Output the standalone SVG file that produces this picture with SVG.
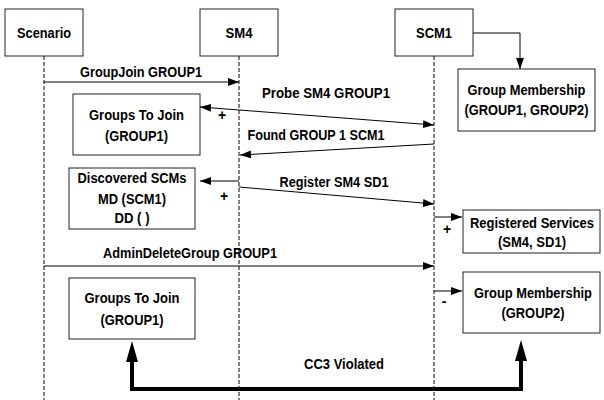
<svg xmlns="http://www.w3.org/2000/svg" width="604" height="400" viewBox="0 0 604 400">
<style>
text{font-family:"Liberation Sans",Arial,sans-serif;font-size:14px;font-weight:bold;fill:#000;text-anchor:middle}
.box{fill:#fff;stroke:#222;stroke-width:1}
.life{stroke:#000;stroke-width:1;stroke-dasharray:4,2;fill:none}
.msg{stroke:#000;stroke-width:1;fill:none}
.thick{stroke:#000;stroke-width:4;fill:none}
</style>
<defs>
<marker id="ah" markerUnits="userSpaceOnUse" markerWidth="11" markerHeight="8" refX="11" refY="4" orient="auto-start-reverse"><path d="M0,0 L11,4 L0,8 z" fill="#000"/></marker>
<marker id="big" markerUnits="userSpaceOnUse" markerWidth="22" markerHeight="12" refX="0" refY="6" orient="auto-start-reverse"><path d="M0,0 L21,6 L0,12 z" fill="#000"/></marker>
</defs>
<rect width="604" height="400" fill="#fff"/>
<g id="lifelines">
<line class="life" x1="44" y1="56" x2="44" y2="400"/>
<line class="life" x1="239" y1="56" x2="239" y2="400"/>
<line class="life" x1="434" y1="56" x2="434" y2="400"/>
</g>
<g id="scenario"><rect class="box" x="5" y="9" width="78" height="47"/><text x="44" y="38" textLength="54" lengthAdjust="spacingAndGlyphs">Scenario</text></g>
<g id="sm4"><rect class="box" x="200" y="9" width="78" height="47"/><text x="239" y="38" textLength="27" lengthAdjust="spacingAndGlyphs">SM4</text></g>
<g id="scm1"><rect class="box" x="395" y="9" width="78" height="47"/><text x="434" y="38" textLength="36" lengthAdjust="spacingAndGlyphs">SCM1</text></g>
<g id="groupMembership1"><rect class="box" x="458" y="69" width="137" height="62"/><text x="526.5" y="95" textLength="118" lengthAdjust="spacingAndGlyphs">Group Membership</text><text x="526.5" y="115" textLength="124" lengthAdjust="spacingAndGlyphs">(GROUP1, GROUP2)</text></g>
<g id="groupsToJoin1"><rect class="box" x="73" y="94" width="127" height="61"/><text x="136.5" y="120" textLength="95" lengthAdjust="spacingAndGlyphs">Groups To Join</text><text x="136.5" y="141" textLength="63" lengthAdjust="spacingAndGlyphs">(GROUP1)</text></g>
<g id="discoveredSCMs"><rect class="box" x="69" y="168" width="126" height="61"/><text x="132" y="183" textLength="109" lengthAdjust="spacingAndGlyphs">Discovered SCMs</text><text x="132" y="204" textLength="68" lengthAdjust="spacingAndGlyphs">MD (SCM1)</text><text x="132" y="223" textLength="35" lengthAdjust="spacingAndGlyphs">DD ( )</text></g>
<g id="registeredServices"><rect class="box" x="463" y="210" width="137" height="43"/><text x="532" y="228" textLength="124" lengthAdjust="spacingAndGlyphs">Registered Services</text><text x="532" y="247" textLength="68" lengthAdjust="spacingAndGlyphs">(SM4, SD1)</text></g>
<g id="groupsToJoin2"><rect class="box" x="69" y="278" width="126" height="61"/><text x="132" y="303" textLength="95" lengthAdjust="spacingAndGlyphs">Groups To Join</text><text x="132" y="325" textLength="63" lengthAdjust="spacingAndGlyphs">(GROUP1)</text></g>
<g id="groupMembership2"><rect class="box" x="463" y="272" width="137" height="61"/><text x="533" y="298" textLength="118" lengthAdjust="spacingAndGlyphs">Group Membership</text><text x="533" y="318" textLength="63" lengthAdjust="spacingAndGlyphs">(GROUP2)</text></g>
<g id="connectors">
<path class="msg" d="M473,33 H520 V69" marker-end="url(#ah)"/>
<line class="msg" x1="44" y1="82" x2="239" y2="82" marker-end="url(#ah)"/>
<line class="msg" x1="200" y1="107" x2="434" y2="125" marker-start="url(#ah)" marker-end="url(#ah)"/>
<line class="msg" x1="434" y1="144" x2="240" y2="155" marker-end="url(#ah)"/>
<line class="msg" x1="239" y1="181" x2="200" y2="181" marker-end="url(#ah)"/>
<line class="msg" x1="239" y1="187" x2="434" y2="204" marker-end="url(#ah)"/>
<line class="msg" x1="434" y1="217" x2="462" y2="217" marker-end="url(#ah)"/>
<line class="msg" x1="44" y1="266" x2="434" y2="266" marker-end="url(#ah)"/>
<line class="msg" x1="434" y1="291" x2="462" y2="291" marker-end="url(#ah)"/>
<path class="thick" d="M132,362 V389 H521 V361" marker-start="url(#big)" marker-end="url(#big)"/>
</g>
<g id="labels">
<text x="141" y="77" textLength="122" lengthAdjust="spacingAndGlyphs">GroupJoin GROUP1</text>
<text x="326" y="98" textLength="128" lengthAdjust="spacingAndGlyphs">Probe SM4 GROUP1</text>
<text x="222" y="120">+</text>
<text x="316" y="140" textLength="137" lengthAdjust="spacingAndGlyphs">Found GROUP 1 SCM1</text>
<text x="224" y="201">+</text>
<text x="334" y="187" textLength="109" lengthAdjust="spacingAndGlyphs">Register SM4 SD1</text>
<text x="447" y="234">+</text>
<text x="190" y="258" textLength="174" lengthAdjust="spacingAndGlyphs">AdminDeleteGroup GROUP1</text>
<text x="444" y="306">-</text>
<text x="344" y="369" textLength="80" lengthAdjust="spacingAndGlyphs">CC3 Violated</text>
</g>
</svg>
